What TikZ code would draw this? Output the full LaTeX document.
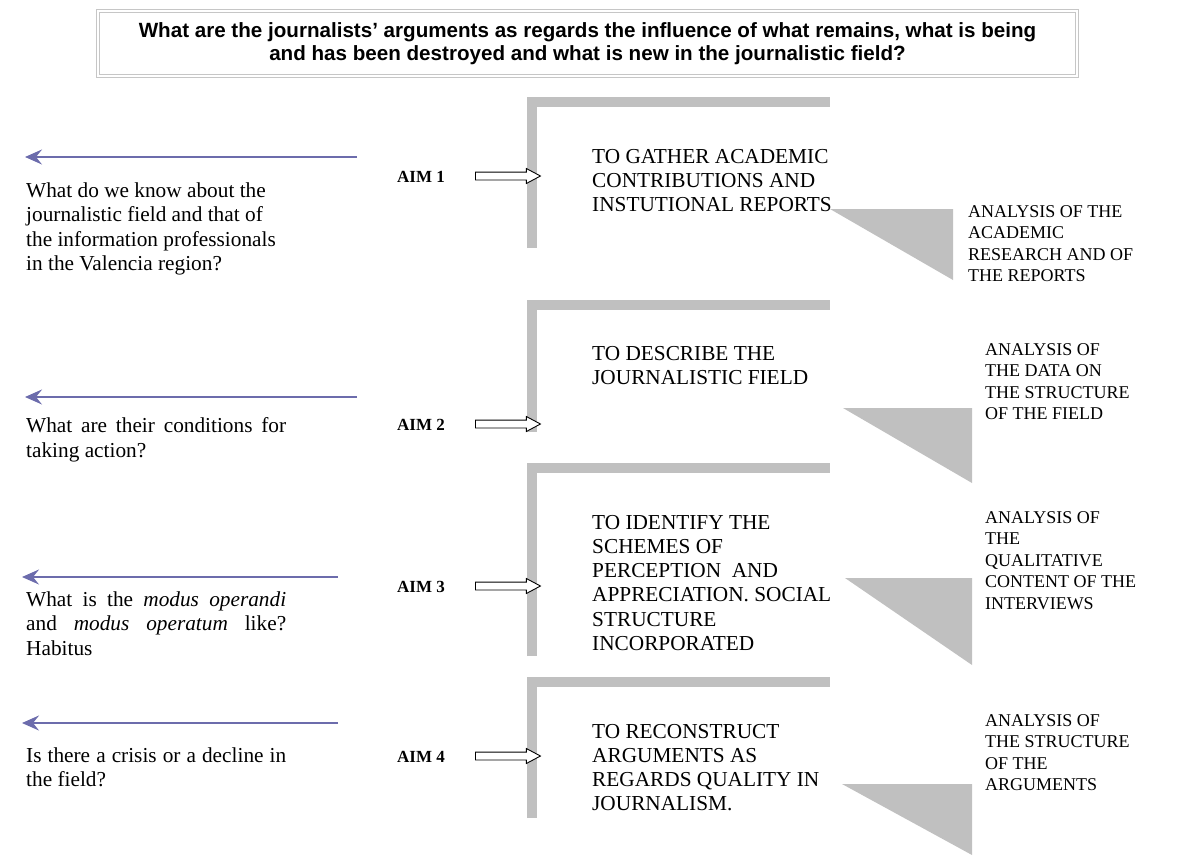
\documentclass[tikz,border=0pt]{standalone}
\usepackage{fontspec}
\setmainfont{Liberation Serif}
\newfontfamily\titlefont{Liberation Sans}
\usetikzlibrary{arrows.meta,shapes.arrows}
\definecolor{bargray}{RGB}{192,192,192}
\definecolor{qblue}{RGB}{108,108,172}
\newcommand\qline[1]{\makebox[260pt][s]{#1}}

\begin{document}
\begin{tikzpicture}[x=1pt,y=-1pt,
    qtext/.style={anchor=north west,inner sep=0,align=left,
	font=\fontsize{21.3}{24.5}\selectfont},
    aimtext/.style={anchor=base west,inner sep=0,
	font=\fontsize{17}{20}\selectfont\bfseries},
    goaltext/.style={anchor=north west,inner sep=0,align=left,
	font=\fontsize{21.3}{24.2}\selectfont},
    restext/.style={anchor=north west,inner sep=0,align=left,
	font=\fontsize{18}{21.5}\selectfont},
    qarrow/.style={draw=qblue,line width=2pt,
	-{Stealth[length=17pt,width=15pt,inset=6pt]}},
    hollow/.style={single arrow,draw,fill=white,line width=0.9pt,
	inner xsep=0,inner ysep=3.5pt,minimum height=65pt,
	single arrow head extend=3.5pt,single arrow tip angle=56,anchor=tail},
    bar/.style={draw=bargray,line width=10pt},
    wedge/.style={fill=bargray}]
    \useasboundingbox (0,0) rectangle (1180,855);
    \path (587.5,43.5) node [draw=gray!45,line width=1.2pt,double=white,
	double distance=1.5pt,minimum width=979pt,minimum height=65pt,align=center,
	font=\titlefont\fontsize{20.6}{23.5}\selectfont\bfseries]
	(title) {What are the journalists’ arguments as regards the influence of what remains, what is being\\and has been destroyed and what is new in the journalistic field?};
    \draw [bar] (532,248) |- (830,102);
    \draw [bar] (532,432) |- (830,305);
    \draw [bar] (532,656) |- (830,468);
    \draw [bar] (532,818) |- (830,682);
    \fill [wedge] (830,209) -- (953,209) -- (953,280) -- cycle;
    \fill [wedge] (843,408) -- (972,408) -- (972,483) -- cycle;
    \fill [wedge] (845,578) -- (972,578) -- (972,665) -- cycle;
    \fill [wedge] (842,784) -- (972,784) -- (972,855) -- cycle;
    \coordinate (qs1) at (357,157);
    \coordinate (qt1) at (25,157);
    \coordinate (qs2) at (357,397);
    \coordinate (qt2) at (25,397);
    \coordinate (qs3) at (338,577);
    \coordinate (qt3) at (22,577);
    \coordinate (qs4) at (338,723);
    \coordinate (qt4) at (22,723);
    \path (26,182.5) node [qtext]
	(q1) {What do we know about the\\journalistic field and that of\\the information professionals\\in the Valencia region?};
    \path (26,417.5) node [qtext]
	(q2) {\qline{What are their conditions for}\\taking action?};
    \path (26,591.5) node [qtext]
	(q3) {\qline{What is the \textit{modus operandi}}\\\qline{and \textit{modus operatum} like?}\\Habitus};
    \path (26,747.5) node [qtext]
	(q4) {\qline{Is there a crisis or a decline in}\\the field?};
    \path (397,182) node [aimtext] (aim1) {AIM 1};
    \path (397,430) node [aimtext] (aim2) {AIM 2};
    \path (397,592) node [aimtext] (aim3) {AIM 3};
    \path (397,762) node [aimtext] (aim4) {AIM 4};
    \path (475,176) node [hollow] (arr1) {};
    \path (475,424) node [hollow] (arr2) {};
    \path (475,586) node [hollow] (arr3) {};
    \path (475,756) node [hollow] (arr4) {};
    \path (592,149) node [goaltext]
	(goal1) {TO GATHER ACADEMIC\\CONTRIBUTIONS AND\\INSTUTIONAL REPORTS};
    \path (592,346) node [goaltext]
	(goal2) {TO DESCRIBE THE\\JOURNALISTIC FIELD};
    \path (592,515) node [goaltext]
	(goal3) {TO IDENTIFY THE\\SCHEMES OF\\PERCEPTION\ \ AND\\APPRECIATION. SOCIAL\\STRUCTURE\\INCORPORATED};
    \path (592,724) node [goaltext]
	(goal4) {TO RECONSTRUCT\\ARGUMENTS AS\\REGARDS QUALITY IN\\JOURNALISM.};
    \path (968,205) node [restext]
	(res1) {ANALYSIS OF THE\\ACADEMIC\\RESEARCH AND OF\\THE REPORTS};
    \path (985,343) node [restext]
	(res2) {ANALYSIS OF\\THE DATA ON\\THE STRUCTURE\\OF THE FIELD};
    \path (985,511) node [restext]
	(res3) {ANALYSIS OF\\THE\\QUALITATIVE\\CONTENT OF THE\\INTERVIEWS};
    \path (985,714) node [restext]
	(res4) {ANALYSIS OF\\THE STRUCTURE\\OF THE\\ARGUMENTS};
    \draw [qarrow] (qs1) -- (qt1);
    \draw [qarrow] (qs2) -- (qt2);
    \draw [qarrow] (qs3) -- (qt3);
    \draw [qarrow] (qs4) -- (qt4);
\end{tikzpicture}
\end{document}
